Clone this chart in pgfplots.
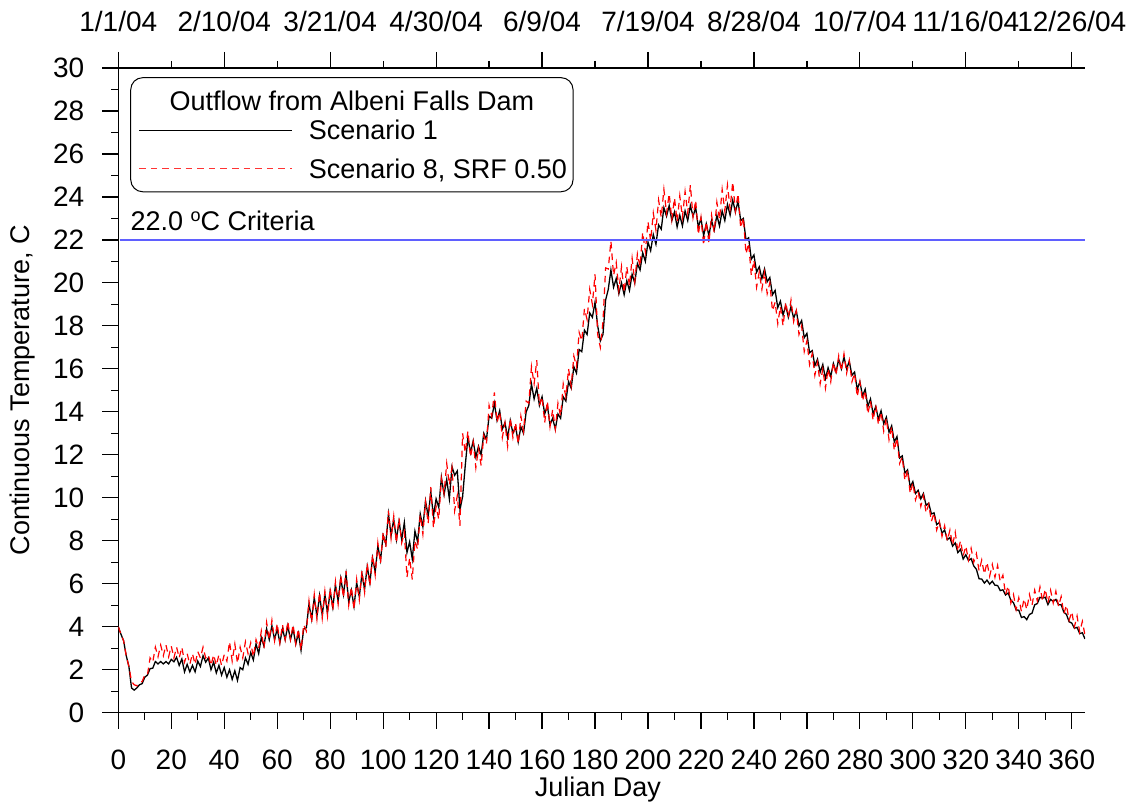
\documentclass[border=0pt]{standalone}
\usepackage{fontspec}
\setmainfont{Liberation Sans}
\usepackage{pgfplots}
\usepackage{pgfplotstable}
\pgfplotsset{compat=1.18}
\definecolor{critblue}{RGB}{95,95,255}
\tikzset{myfont/.style={font=\fontsize{14}{16}\selectfont},
  txtfont/.style={font=\fontsize{13.5}{16}\selectfont}}
\pgfplotstableread{
day s1 s8
0 4.00 4.00
1 3.65 3.65
2 3.35 3.35
3 2.65 2.65
4 2.15 2.15
5 1.15 1.45
6 1.05 1.30
7 1.15 1.25
8 1.30 1.40
9 1.35 1.45
10 1.65 1.75
11 1.75 1.75
12 2.05 2.55
13 2.07 2.35
14 2.38 3.05
15 2.27 2.60
16 2.38 3.15
17 2.27 2.65
18 2.38 3.15
19 2.27 2.60
20 2.48 3.10
21 2.37 2.55
22 2.58 3.05
23 2.20 2.55
24 2.50 3.05
25 1.90 2.35
26 2.25 2.75
27 1.90 2.25
28 2.20 2.75
29 1.90 2.25
30 2.40 2.85
31 2.15 2.55
32 2.65 3.05
33 2.35 2.55
34 2.55 2.70
35 2.00 2.20
36 2.35 2.70
37 1.85 2.20
38 2.20 2.70
39 1.75 2.20
40 2.10 2.70
41 1.65 2.40
42 2.00 3.30
43 1.55 2.40
44 1.95 3.20
45 1.50 2.30
46 2.10 3.05
47 2.00 2.55
48 2.55 3.30
49 2.25 2.75
50 2.80 3.25
51 2.45 2.60
52 3.20 3.40
53 2.75 3.00
54 3.50 3.80
55 3.10 3.00
56 3.90 4.20
57 3.40 3.40
58 4.05 4.30
59 3.40 3.35
60 3.90 4.15
61 3.25 3.25
62 3.90 4.10
63 3.40 3.40
64 4.05 4.25
65 3.40 3.40
66 3.90 4.10
67 3.20 3.20
68 3.70 3.90
69 2.90 2.90
70 3.90 4.10
71 3.95 3.80
72 5.05 5.20
73 4.35 4.20
74 5.35 5.50
75 4.50 4.35
76 5.45 5.60
77 4.55 4.40
78 5.50 5.65
79 4.65 4.50
80 5.65 5.80
81 4.90 4.75
82 5.95 6.10
83 5.20 5.05
84 6.25 6.40
85 5.50 5.35
86 6.45 6.60
87 5.15 5.00
88 5.70 5.85
89 4.95 4.80
90 6.05 6.20
91 5.40 5.25
92 6.45 6.60
93 5.75 5.60
94 6.80 6.95
95 6.05 5.90
96 7.20 7.35
97 6.55 6.40
98 7.75 7.90
99 7.10 6.95
100 8.25 8.40
101 7.85 7.70
102 9.25 9.40
103 8.25 8.10
104 9.00 9.15
105 8.05 7.90
106 8.90 9.05
107 8.05 7.90
108 8.85 8.40
109 7.45 6.30
110 7.95 7.20
111 7.15 6.20
112 8.45 8.00
113 7.95 7.60
114 9.25 9.20
115 8.65 8.30
116 9.85 9.80
117 9.15 8.80
118 10.25 10.50
119 9.15 8.60
120 9.95 9.60
121 9.55 9.00
122 10.95 10.90
123 10.15 10.20
124 10.85 11.60
125 9.95 10.60
126 11.45 11.40
127 11.05 9.40
128 11.25 10.10
129 9.45 8.70
130 10.05 13.00
131 11.50 12.10
132 12.80 13.10
133 12.10 11.90
134 12.65 12.60
135 11.90 11.40
136 12.40 12.30
137 12.00 11.50
138 13.00 12.90
139 12.70 12.50
140 13.80 14.30
141 13.70 13.80
142 14.40 14.90
143 13.60 13.50
144 14.05 14.00
145 13.20 12.80
146 13.50 13.50
147 12.80 12.40
148 13.60 13.70
149 13.00 12.80
150 13.30 13.50
151 12.60 12.50
152 13.30 13.80
153 13.00 13.10
154 14.00 14.50
155 14.30 14.40
156 15.30 16.10
157 14.60 15.30
158 15.10 16.40
159 14.30 14.30
160 14.70 14.70
161 13.90 13.50
162 14.30 14.50
163 13.40 13.30
164 13.70 14.10
165 13.20 13.20
166 13.90 14.40
167 13.70 13.80
168 14.70 15.30
169 14.50 14.70
170 15.40 16.00
171 15.10 15.20
172 16.10 16.60
173 15.80 16.10
174 16.90 17.70
175 16.80 17.30
176 17.80 18.80
177 17.60 18.30
178 18.60 19.70
179 18.40 19.00
180 19.10 20.40
181 18.00 17.60
182 17.30 17.00
183 17.60 18.20
184 19.20 20.70
185 19.70 20.65
186 20.60 21.95
187 19.80 20.35
188 20.20 20.95
189 19.50 19.65
190 20.00 20.75
191 19.45 19.55
192 20.10 20.75
193 19.65 19.85
194 20.40 21.15
195 20.00 20.05
196 20.90 21.35
197 20.60 20.75
198 21.40 22.35
199 21.00 21.45
200 21.90 22.85
201 21.50 21.95
202 22.25 23.25
203 21.80 22.45
204 22.70 23.85
205 22.50 23.05
206 23.50 24.35
207 23.10 23.25
208 23.60 24.15
209 22.90 22.95
210 23.30 23.95
211 22.60 22.85
212 23.15 24.05
213 22.65 23.05
214 23.35 24.25
215 22.90 23.25
216 23.60 24.55
217 23.10 23.05
218 23.50 23.85
219 22.60 22.25
220 23.00 23.05
221 22.20 21.75
222 22.75 22.85
223 22.20 21.85
224 22.90 23.15
225 22.45 22.35
226 23.15 23.75
227 22.65 22.95
228 23.35 24.35
229 22.90 23.35
230 23.65 24.55
231 23.15 23.45
232 23.85 24.70
233 23.30 23.35
234 23.80 24.15
235 22.90 22.55
236 23.00 23.05
237 22.00 21.35
238 22.10 21.85
239 21.10 20.35
240 21.30 21.05
241 20.50 19.80
242 20.75 20.50
243 20.20 19.70
244 20.65 20.50
245 20.05 19.50
246 20.25 20.00
247 19.45 18.70
248 19.65 19.10
249 18.85 18.10
250 19.15 18.90
251 18.50 18.00
252 18.95 19.10
253 18.40 18.40
254 18.90 19.20
255 18.35 18.20
256 18.70 18.70
257 18.00 17.60
258 18.25 18.00
259 17.45 16.80
260 17.65 17.30
261 16.75 16.20
262 16.85 16.70
263 16.15 15.70
264 16.45 16.30
265 15.85 15.30
266 16.20 16.00
267 15.55 15.10
268 16.05 16.00
269 15.65 15.40
270 16.25 16.30
271 15.85 15.70
272 16.45 16.60
273 16.00 15.90
274 16.55 16.70
275 16.00 15.80
276 16.35 16.40
277 15.70 15.40
278 15.85 15.80
279 15.05 14.70
280 15.40 15.40
281 14.75 14.50
282 15.05 15.00
283 14.25 13.90
284 14.60 14.50
285 13.90 13.60
286 14.25 14.30
287 13.65 13.40
288 14.05 14.00
289 13.45 13.10
290 13.75 13.70
291 13.05 12.70
292 13.35 13.30
293 12.60 12.20
294 12.85 12.80
295 11.85 11.60
296 11.95 11.90
297 11.15 10.80
298 11.30 11.30
299 10.50 10.20
300 10.75 10.70
301 10.20 9.90
302 10.35 10.30
303 9.95 9.60
304 10.20 10.10
305 9.65 9.30
306 9.75 9.70
307 9.25 8.90
308 9.30 9.30
309 8.75 8.50
310 8.85 8.90
311 8.35 8.20
312 8.50 8.70
313 8.05 8.00
314 8.15 8.50
315 7.75 7.80
316 7.90 8.40
317 7.45 7.50
318 7.60 8.00
319 7.15 7.30
320 7.35 7.75
321 7.08 7.10
322 7.17 7.65
323 6.83 7.00
324 6.67 7.40
325 6.23 6.60
326 6.22 7.10
327 6.03 6.45
328 6.17 7.00
329 5.98 6.35
330 6.12 6.90
331 5.93 6.30
332 5.92 6.85
333 5.68 6.10
334 5.72 6.40
335 5.48 5.50
336 5.57 5.90
337 5.23 5.10
338 5.12 5.50
339 4.78 4.80
340 4.77 5.35
341 4.43 4.70
342 4.47 5.30
343 4.33 4.80
344 4.57 5.50
345 4.63 5.00
346 5.02 5.70
347 5.08 5.20
348 5.37 5.85
349 5.33 5.20
350 5.37 5.75
351 5.03 5.10
352 5.27 5.70
353 5.18 5.10
354 5.27 5.65
355 5.03 4.95
356 5.02 5.40
357 4.68 4.60
358 4.57 5.00
359 4.23 4.30
360 4.17 4.70
361 3.93 4.00
362 3.97 4.50
363 3.68 3.75
364 3.72 4.25
365 3.43 3.60
}\datatable
\begin{document}
\begin{tikzpicture}
\begin{axis}[
  at={(0,0)}, anchor=south west,
  scale only axis, width=483.35pt, height=322.35pt,
  xmin=0, xmax=365, ymin=0, ymax=30,
  axis x line*=bottom, axis y line*=left,
  xtick={0,20,...,360}, minor x tick num=1,
  ytick={0,2,...,30}, minor y tick num=1,
  tick align=outside,
  major tick length=8pt, minor tick length=3.5pt,
  every tick/.style={black, line width=0.6pt},
  axis line style={line width=0.6pt, black},
  /pgf/number format/assume math mode=true,
  tick label style={myfont},
  xticklabel style={anchor=center, yshift=-15.8pt},
  yticklabel style={anchor=east, inner sep=0pt, xshift=-8.8pt},
  label style={txtfont},
  xlabel={Julian Day},
  ylabel={Continuous Temperature, C},
  xlabel style={at={(axis description cs:0.496,-0.1199)}, anchor=center},
  ylabel style={at={(axis description cs:-0.0996,0.5)}, anchor=center},
]
\addplot[black, line width=0.65pt] table[x=day, y=s1] {\datatable};
\addplot[red, line width=0.6pt, dash pattern=on 3.3pt off 2.5pt] table[x=day, y=s8] {\datatable};
\addplot[critblue, line width=0.7pt] coordinates {(0.5,22) (365,22)};
\draw[black, line width=0.5pt, rounded corners=6pt] (axis cs:4.7,24.24) rectangle (axis cs:171.7,29.55);
\node[txtfont, anchor=base, inner sep=0pt] at (axis cs:88.2,28.03) {Outflow from Albeni Falls Dam};
\draw[black, line width=0.5pt] (axis cs:7.9,27.11) -- (axis cs:65.5,27.11);
\node[txtfont, anchor=base west, inner sep=0pt] at (axis cs:71.8,26.65) {Scenario 1};
\draw[red!80, line width=0.5pt, dash pattern=on 3.3pt off 2.5pt] (axis cs:7.9,25.3) -- (axis cs:65.5,25.3);
\node[txtfont, anchor=base west, inner sep=0pt] at (axis cs:71.8,24.87) {Scenario 8, SRF 0.50};
\node[txtfont, anchor=base west, inner sep=0pt] at (axis cs:4.5,22.46) {22.0 {\fontsize{9}{10}\selectfont\raisebox{4.2pt}{o}}C Criteria};
\end{axis}
\begin{axis}[
  at={(0,0)}, anchor=south west,
  scale only axis, width=483.35pt, height=322.35pt,
  xmin=0, xmax=365, ymin=0, ymax=1,
  axis x line*=top, hide y axis,
  xtick={0,40,...,360}, minor x tick num=1,
  xticklabels={1/1/04,2/10/04,3/21/04,4/30/04,6/9/04,7/19/04,8/28/04,10/7/04,11/16/04,12/26/04},
  tick align=outside,
  major tick length=8pt, minor tick length=3.5pt,
  every tick/.style={black, line width=0.6pt},
  axis line style={line width=0.6pt, black},
  tick label style={myfont},
  xticklabel style={anchor=center, yshift=15.2pt},
]
\end{axis}
\pgfresetboundingbox
\path (-59.15pt,-46.65pt) rectangle (506.35pt,356.35pt);
\end{tikzpicture}
\end{document}
